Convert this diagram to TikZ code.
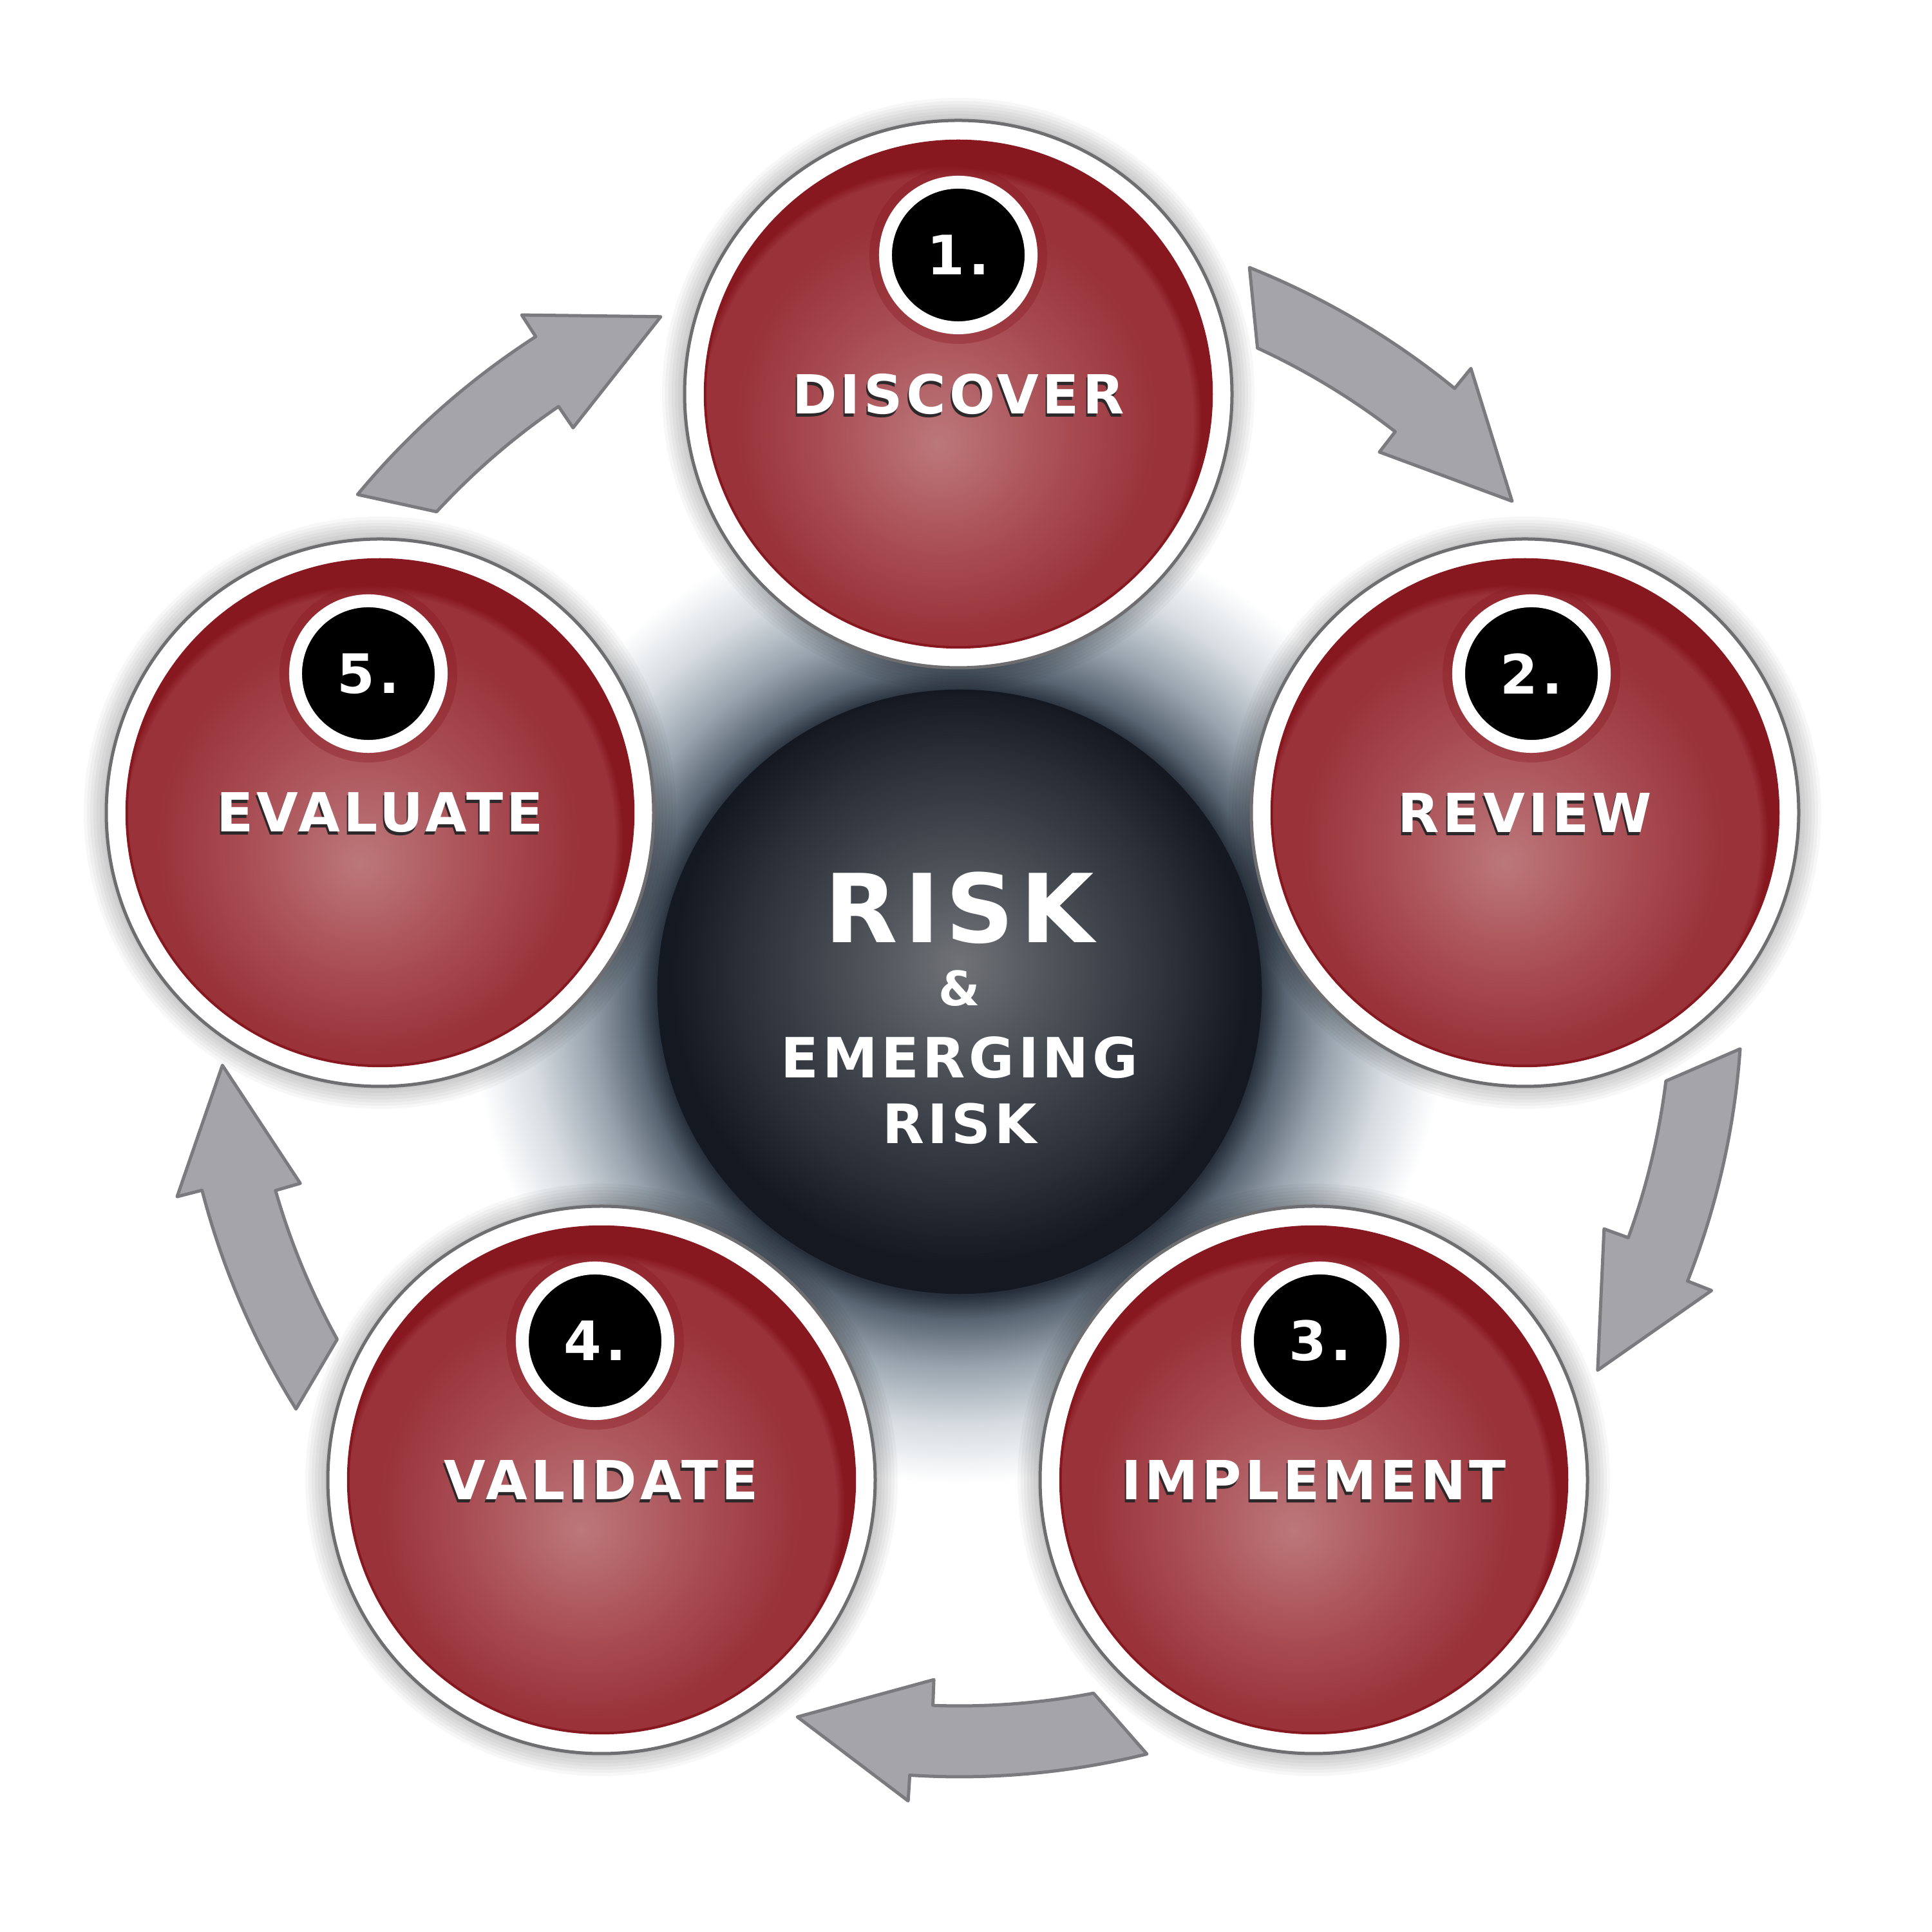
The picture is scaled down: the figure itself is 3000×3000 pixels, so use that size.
\documentclass[tikz,border=0pt]{standalone}
\usepackage{fontspec}
\newfontfamily\lblfont[LetterSpace=6.5]{DejaVu Sans}
\usetikzlibrary{calc}
\definecolor{redlight}{RGB}{188,120,123}
\definecolor{redmid}{RGB}{170,80,86}
\definecolor{reddark}{RGB}{153,50,57}
\definecolor{rededge}{RGB}{136,24,32}
\definecolor{ballc}{RGB}{112,114,119}
\definecolor{ballm}{RGB}{78,82,89}
\definecolor{balld}{RGB}{42,47,56}
\definecolor{balle}{RGB}{20,24,32}
\definecolor{haloa}{RGB}{38,47,58}
\definecolor{halob}{RGB}{88,100,113}
\definecolor{haloc}{RGB}{152,163,173}
\definecolor{halod}{RGB}{214,220,225}
\definecolor{arrowfill}{RGB}{164,164,169}
\definecolor{arrowline}{RGB}{122,122,127}
\definecolor{ringline}{RGB}{110,110,112}
\definecolor{txtshadow}{RGB}{45,40,42}
\pgfdeclareradialshading{redball}{\pgfpoint{-2bp}{-5bp}}{color(0bp)=(redlight); color(11bp)=(redmid); color(21bp)=(reddark); color(24.2bp)=(reddark); color(25bp)=(rededge); color(50bp)=(rededge)}
\pgfdeclareradialshading{darkball}{\pgfpoint{0bp}{2.4bp}}{color(0bp)=(ballc); color(8bp)=(ballm); color(18bp)=(balld); color(24bp)=(balle); color(25bp)=(balle); color(50bp)=(balle)}
\pgfdeclareradialshading{halo}{\pgfpoint{0bp}{0bp}}{color(0bp)=(haloa); color(15.4bp)=(haloa); color(16.6bp)=(halob); color(19bp)=(haloc); color(22bp)=(halod); color(25bp)=(white); color(50bp)=(white)}
\tikzset{
  stageball/.style={circle, inner sep=0pt, minimum size=7.86cm, shade, shading=redball, draw=rededge, line width=0.04cm},
  badge/.style={circle, inner sep=0pt, minimum size=2.26cm, fill=black, draw=white, line width=0.2cm},
  numtext/.style={inner sep=0pt, text=white, font=\lblfont\bfseries\fontsize{24}{28}\selectfont},
  lbl/.style={inner sep=0pt, text=white, font=\lblfont\bfseries\fontsize{23.8}{28}\selectfont},
  lblshadow/.style={lbl, text=txtshadow},
  core/.style={circle, inner sep=0pt, minimum size=9.34cm, shade, shading=darkball, draw=balle, line width=0.04cm},
  coretext/.style={inner sep=0pt, text=white},
  cyc/.style={fill=arrowfill, draw=arrowline, line width=0.05cm, line join=round},
}
\newcommand\makestage[6]{%
  \coordinate (#1c) at (#2,#3);
  \foreach \k in {1,...,7} \fill[black,opacity=0.03] (#1c) circle[radius=425+5*\k];
  \fill[white, draw=ringline, line width=0.05cm] (#1c) circle[radius=425];
  \node[stageball] (#1) at (#1c) {};
  \fill[rededge, opacity=0.35] ($(#1c)+(#4,216)$) circle[radius=138];
  \node[badge] (#1b) at ($(#1c)+(#4,216)$) {};
  \node[numtext] (#1n) at (#1b) {#5};
  \node[lblshadow] (#1s) at ($(#1c)+(-2,-5)$) {#6};
  \node[lbl] (#1t) at (#1c) {#6};
}
\begin{document}
\begin{tikzpicture}[x=0.01cm,y=0.01cm]
\fill[white] (0,0) rectangle (3000,3000);
\useasboundingbox (0,0) rectangle (3000,3000);
\coordinate (ctr) at (1490,1456);
\shade[shading=halo] (ctr) circle[radius=760];
% cycle arrows
\foreach \m in {54.25,-18,-90.15,198,126.3} {
  \filldraw[cyc] ($(ctr)+(\m+14:1215)$) arc[start angle=\m+14, end angle=\m-3.5, radius=1215]
    -- ($(ctr)+(\m-3.5:1255)$) -- ($(ctr)+(\m-12.5:1150)$) -- ($(ctr)+(\m-2:1065)$)
    -- ($(ctr)+(\m-2:1105)$) arc[start angle=\m-2, end angle=\m+11, radius=1105] -- cycle;
}
\makestage{s1}{1488}{2388}{0}{1.}{DISCOVER}
\makestage{s2}{2368}{1738}{10}{2.}{REVIEW}
\makestage{s3}{2040}{702}{10}{3.}{IMPLEMENT}
\makestage{s4}{934}{702}{-10}{4.}{VALIDATE}
\makestage{s5}{590}{1738}{-18}{5.}{EVALUATE}
% center
\node[core] (hub) at (1490,1460) {};
\node[coretext, font=\lblfont\bfseries\fontsize{42}{48}\selectfont] (r1) at (1490,1590) {RISK};
\node[coretext, font=\lblfont\bfseries\fontsize{21}{26}\selectfont] (amp) at (1490,1465) {\&};
\node[coretext, font=\lblfont\bfseries\fontsize{24.5}{28}\selectfont] (emg) at (1490,1358) {EMERGING};
\node[coretext, font=\lblfont\bfseries\fontsize{24}{28}\selectfont] (r2) at (1490,1255) {RISK};
\end{tikzpicture}
\end{document}
